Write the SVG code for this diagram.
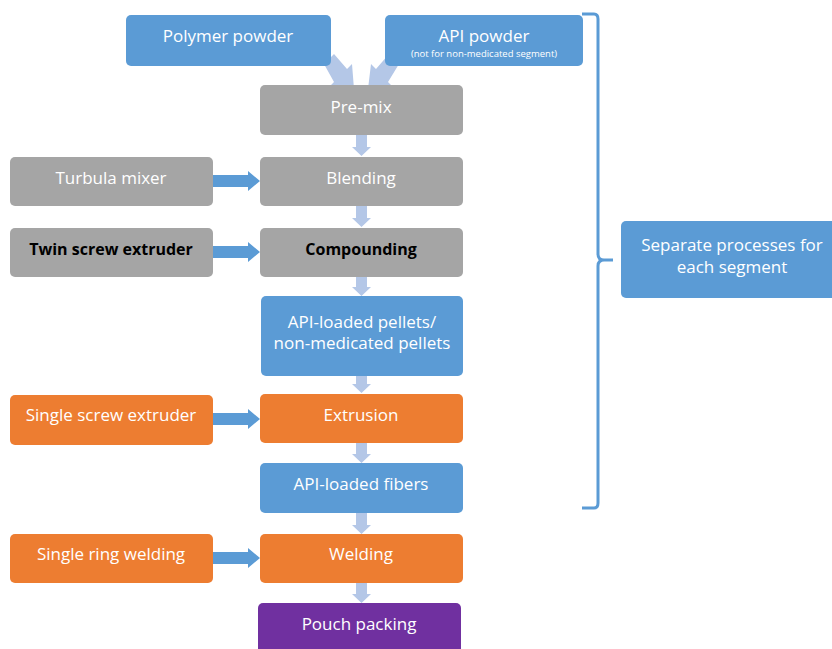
<svg xmlns="http://www.w3.org/2000/svg" width="832" height="649" viewBox="0 0 832 649">
<style>
.t{font-family:"Open Sans","Liberation Sans",sans-serif;font-size:17px;fill:#fff;text-anchor:middle}
.b{font-weight:bold;fill:#000;font-size:16px}
.s{font-size:9.5px}
.blue{fill:#5b9bd5}
.gray{fill:#a5a5a5}
.orange{fill:#ed7d31}
.purple{fill:#7030a0}
.la{fill:#b4c7e7}
.ra{fill:#5b9bd5}
</style>
<rect width="832" height="649" fill="#fff"/>
<g id="connectors">
<polygon class="la" points="324,64 334,54 347,69 352,64 354,89 329,87 334,82"/>
<polygon class="la" points="399,64 389,54 376,69 371,64 368,89 393,87 388,82"/>
<path class="la" d="M356,135 h11 v12 h4 l-9.5,9 l-9.5,-9 h4 z"/>
<path class="la" d="M356,206 h11 v12 h4 l-9.5,9 l-9.5,-9 h4 z"/>
<path class="la" d="M356,277 h11 v10 h4 l-9.5,9 l-9.5,-9 h4 z"/>
<path class="la" d="M356,376 h11 v8 h4 l-9.5,9 l-9.5,-9 h4 z"/>
<path class="la" d="M356,443 h11 v11 h4 l-9.5,9 l-9.5,-9 h4 z"/>
<path class="la" d="M356,513 h11 v12 h4 l-9.5,9 l-9.5,-9 h4 z"/>
<path class="la" d="M356,583 h11 v11 h4 l-9.5,9 l-9.5,-9 h4 z"/>
<path class="ra" d="M213,175 h35 v-4 l12,10 l-12,10 v-4 h-35 z"/>
<path class="ra" d="M213,246 h35 v-4 l12,10 l-12,10 v-4 h-35 z"/>
<path class="ra" d="M213,413 h35 v-4 l12,10 l-12,10 v-4 h-35 z"/>
<path class="ra" d="M213,552 h35 v-4 l12,10 l-12,10 v-4 h-35 z"/>
<path d="M582,14 H594 Q598,14 598,19 V254 Q598,260 604,260 H613 M604,260 Q598,260 598,266 V503 Q598,508 594,508 H582" fill="none" stroke="#5b9bd5" stroke-width="3"/>
</g>
<g id="polymer"><rect class="blue" x="126" y="15" width="205" height="51" rx="5"/><text class="t" x="228" y="42">Polymer powder</text></g>
<g id="api"><rect class="blue" x="385" y="15" width="198" height="51" rx="5"/><text class="t" x="484" y="42">API powder</text><text class="t s" x="484" y="57">(not for non-medicated segment)</text></g>
<g id="premix"><rect class="gray" x="260" y="85" width="203" height="50" rx="5"/><text class="t" x="361" y="113">Pre-mix</text></g>
<g id="turbula"><rect class="gray" x="10" y="157" width="203" height="49" rx="5"/><text class="t" x="111" y="184">Turbula mixer</text></g>
<g id="blending"><rect class="gray" x="260" y="157" width="203" height="49" rx="5"/><text class="t" x="361" y="184">Blending</text></g>
<g id="twin"><rect class="gray" x="10" y="228" width="203" height="49" rx="5"/><text class="t b" x="111" y="255">Twin screw extruder</text></g>
<g id="compounding"><rect class="gray" x="260" y="228" width="203" height="49" rx="5"/><text class="t b" x="361" y="255">Compounding</text></g>
<g id="pellets"><rect class="blue" x="261" y="296" width="202" height="80" rx="5"/><text class="t" x="362" y="328">API-loaded pellets/</text><text class="t" x="362" y="349">non-medicated pellets</text></g>
<g id="sse"><rect class="orange" x="10" y="395" width="203" height="50" rx="5"/><text class="t" x="111" y="421">Single screw extruder</text></g>
<g id="extrusion"><rect class="orange" x="260" y="394" width="203" height="49" rx="5"/><text class="t" x="361" y="421">Extrusion</text></g>
<g id="fibers"><rect class="blue" x="260" y="463" width="203" height="50" rx="5"/><text class="t" x="361" y="490">API-loaded fibers</text></g>
<g id="srw"><rect class="orange" x="10" y="534" width="203" height="49" rx="5"/><text class="t" x="111" y="560">Single ring welding</text></g>
<g id="welding"><rect class="orange" x="260" y="534" width="203" height="49" rx="5"/><text class="t" x="361" y="560">Welding</text></g>
<g id="pouch"><rect class="purple" x="258" y="603" width="203" height="52" rx="5"/><text class="t" x="359" y="630">Pouch packing</text></g>
<g id="separate"><rect class="blue" x="621" y="221" width="216" height="77" rx="5"/><text class="t" x="732" y="251">Separate processes for</text><text class="t" x="732" y="273">each segment</text></g>
</svg>
